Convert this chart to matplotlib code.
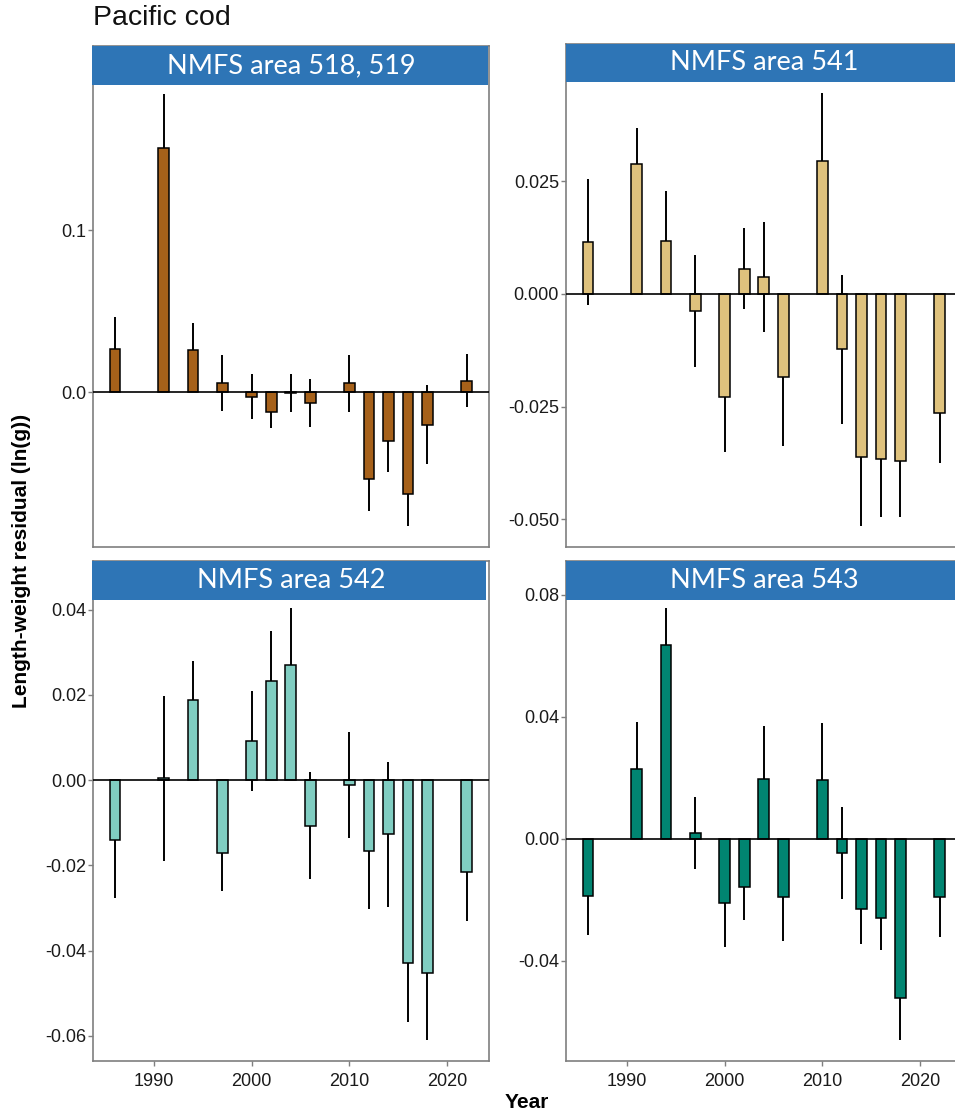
import matplotlib.pyplot as plt
from matplotlib.patches import Rectangle

plt.rcParams['font.family'] = ['Liberation Sans', 'DejaVu Sans']

years = [1986, 1991, 1994, 1997, 2000, 2002, 2004, 2006, 2010, 2012, 2014, 2016, 2018, 2022]

# residuals and error half-widths per NMFS area
res_518 = [0.0265, 0.1508, 0.026, 0.0057, -0.0026, -0.0119, -0.0005, -0.0066,
           0.0055, -0.0534, -0.0298, -0.0629, -0.0199, 0.0071]
err_518 = [0.0201, 0.0335, 0.017, 0.0175, 0.014, 0.0101, 0.0117, 0.015,
           0.0175, 0.0199, 0.0192, 0.0197, 0.0242, 0.0163]

res_541 = [0.0116, 0.0289, 0.0118, -0.0038, -0.0228, 0.0056, 0.0037, -0.0184,
           0.0295, -0.0123, -0.0362, -0.0366, -0.0371, -0.0264]
err_541 = [0.014, 0.008, 0.0111, 0.0124, 0.0122, 0.009, 0.0122, 0.0153,
           0.0152, 0.0166, 0.0154, 0.013, 0.0125, 0.0111]

res_542 = [-0.014, 0.0004, 0.0187, -0.0172, 0.0092, 0.0233, 0.0269, -0.0107,
           -0.0012, -0.0166, -0.0127, -0.0428, -0.0453, -0.0216]
err_542 = [0.0136, 0.0193, 0.0092, 0.0088, 0.0117, 0.0117, 0.0135, 0.0125,
           0.0125, 0.0137, 0.017, 0.014, 0.0157, 0.0115]

res_543 = [-0.0187, 0.0228, 0.0637, 0.002, -0.0209, -0.0156, 0.0196, -0.0192,
           0.0192, -0.0047, -0.023, -0.0258, -0.0521, -0.0189]
err_543 = [0.0127, 0.0155, 0.012, 0.0118, 0.0144, 0.0111, 0.0174, 0.0142,
           0.0189, 0.015, 0.0113, 0.0105, 0.0138, 0.0133]

titles = ['NMFS area 518, 519', 'NMFS area 541', 'NMFS area 542', 'NMFS area 543']
colors = ['#A6611A', '#DFC27D', '#80CDC1', '#018571']
yticks = [[0.0, 0.1], [-0.05, -0.025, 0.0, 0.025],
          [-0.06, -0.04, -0.02, 0.0, 0.02, 0.04], [-0.04, 0.0, 0.04, 0.08]]
yfmt = ['{:.1f}', '{:.3f}', '{:.2f}', '{:.2f}']
ylims = [(-0.0954, 0.2137), (-0.0562, 0.0555), (-0.0659, 0.0514), (-0.0728, 0.0911)]

W, H = 955, 1116
fig = plt.figure(figsize=(W / 100, H / 100), dpi=100)

# panel boxes in pixels: left, right, top, bottom
panels = [(93, 489, 46, 547), (566, 962, 44, 547), (93, 489, 561, 1061), (566, 962, 561, 1061)]
# strip label boxes: left, right, top, bottom
strips = [(92, 488, 46, 85), (566, 975, 44, 82), (92, 486, 561, 600), (566, 975, 561, 600)]

data = [(res_518, err_518), (res_541, err_541), (res_542, err_542), (res_543, err_543)]

for i, (l, r, t, b) in enumerate(panels):
    ax = fig.add_axes([l / W, 1 - b / H, (r - l) / W, (b - t) / H])
    vals, errs = data[i]
    ax.errorbar(years, vals, yerr=errs, fmt='none', ecolor='black', elinewidth=1.4,
                capsize=0, zorder=1)
    ax.bar(years, vals, width=1.1, color=colors[i], edgecolor='black', linewidth=1.1, zorder=2)
    ax.axhline(0, color='black', linewidth=1.2, zorder=3)
    ax.set_xlim(1983.75, 2024.3)
    ax.set_ylim(*ylims[i])
    ax.set_yticks(yticks[i])
    ax.set_yticklabels([yfmt[i].format(v) for v in yticks[i]])
    ax.set_xticks([1990, 2000, 2010, 2020])
    for s in ax.spines.values():
        s.set_color('#7f7f7f')
        s.set_linewidth(1.2)
    ax.tick_params(direction='out', length=3.5, width=1.0, color='#7f7f7f',
                   labelsize=13, labelcolor='#1a1a1a', pad=1.5)
    if i < 2:
        ax.tick_params(axis='x', bottom=False, labelbottom=False)
    else:
        ax.tick_params(axis='x', pad=5)

    sl, sr, st, sb = strips[i]
    fig.patches.append(Rectangle((sl / W, 1 - sb / H), (sr - sl) / W, (sb - st) / H,
                                 transform=fig.transFigure, facecolor='#2E75B6',
                                 edgecolor='none', zorder=10))
    fig.text((l + r) / 2 / W, 1 - (st + sb) / 2 / H, titles[i], color='white',
             fontsize=19.5, family=['Lato', 'DejaVu Sans'], ha='center', va='center',
             zorder=11)

fig.text(93 / W, 1 - 18 / H, 'Pacific cod', fontsize=20.5, ha='left', va='center',
         color='#111111')
fig.text(22 / W, 1 - 561 / H, 'Length-weight residual (ln(g))', fontsize=15,
         fontweight='bold', rotation=90, ha='center', va='center')
fig.text(527 / W, 1 - 1103 / H, 'Year', fontsize=15, fontweight='bold',
         ha='center', va='center')

fig.savefig('out.png', dpi=100)
